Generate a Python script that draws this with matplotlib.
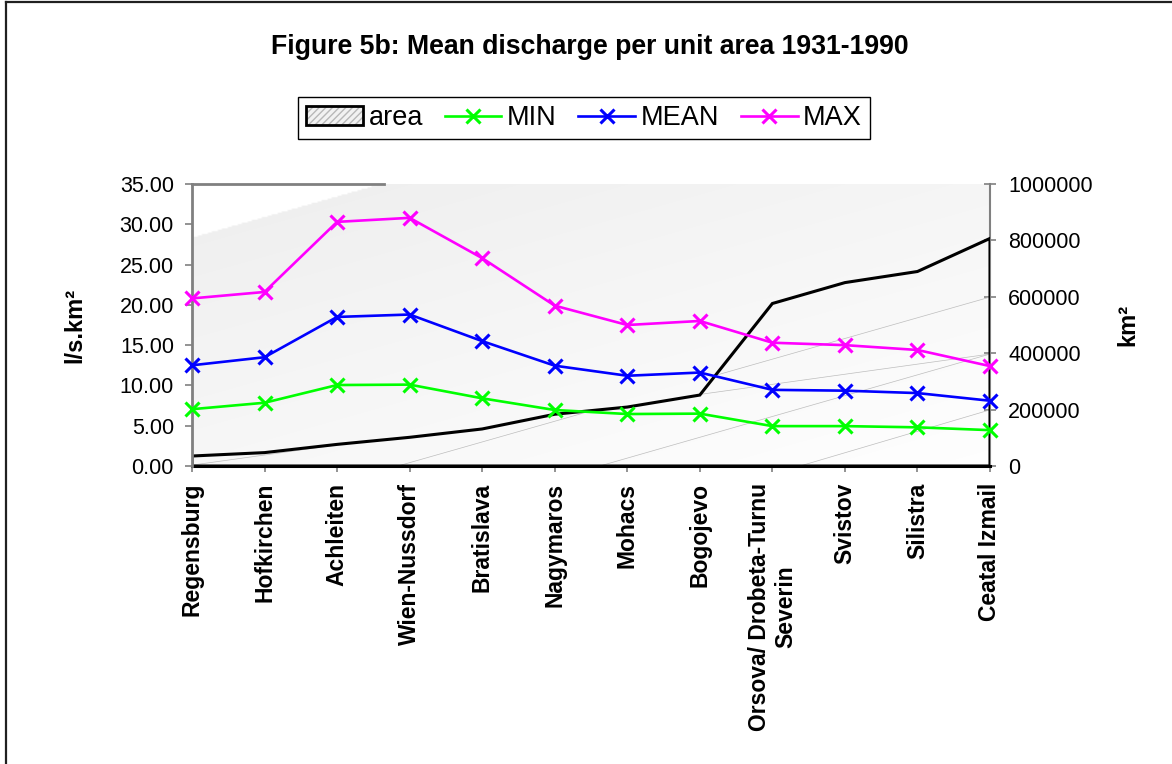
import numpy as np
import matplotlib
matplotlib.use("Agg")
import matplotlib.pyplot as plt
from matplotlib.patches import Polygon, Patch
from matplotlib.lines import Line2D
from matplotlib.legend_handler import HandlerTuple

plt.rcParams['font.family'] = ['Liberation Sans', 'DejaVu Sans']

# ---------------- data ----------------
stations = ["Regensburg", "Hofkirchen", "Achleiten", "Wien-Nussdorf", "Bratislava",
            "Nagymaros", "Mohacs", "Bogojevo", "Orsova/ Drobeta-Turnu\nSeverin",
            "Svistov", "Silistra", "Ceatal Izmail"]
area_km2 = [35399, 47496, 76653, 101731, 131338, 183534, 209064, 251593,
            576232, 650340, 689700, 807000]
q_min = [7.05, 7.85, 10.05, 10.1, 8.4, 6.95, 6.45, 6.5, 4.95, 4.95, 4.8, 4.45]
q_mean = [12.5, 13.5, 18.5, 18.8, 15.5, 12.45, 11.2, 11.6, 9.45, 9.35, 9.05, 8.1]
q_max = [20.8, 21.6, 30.3, 30.8, 25.8, 19.9, 17.5, 18.0, 15.3, 15.0, 14.4, 12.4]

left_ticks = [0, 5, 10, 15, 20, 25, 30, 35]
right_ticks = [0, 200000, 400000, 600000, 800000, 1000000]

W, H = 1172, 764
fig = plt.figure(figsize=(W / 100, H / 100), dpi=100)

# plot area in pixels
PX0, PX1, PY0, PY1 = 192, 990, 184, 466
ax2 = fig.add_axes([PX0 / W, 1 - PY1 / H, (PX1 - PX0) / W, (PY1 - PY0) / H])
ax = ax2.twinx()
ax.set_zorder(ax2.get_zorder() + 1)
ax.patch.set_visible(False)

x = np.arange(len(stations))

# ---- background gradient (decorative) ----
fx = np.linspace(0, 1, 400)
fy = np.linspace(0, 1, 200)
FX, FY = np.meshgrid(fx, fy)
Xp = PX0 + FX * (PX1 - PX0)
Yp = PY1 - FY * (PY1 - PY0)
c = Yp + 0.283 * Xp
g = 0.94 + (c - 292) / (746 - 292) * 0.058
g = np.clip(g, 0, 1)
g[c < 292] = 1.0
rgb = np.dstack([g, g, g])
ax2.imshow(rgb, extent=[0, 1, 0, 1], origin='lower', transform=ax2.transAxes,
           aspect='auto', zorder=0, interpolation='bilinear')

# ---- area series on right axis ----
ax2.set_xlim(0, len(stations) - 1)
ax2.set_ylim(0, 1000000)
verts = [(x[0], 0)] + list(zip(x, area_km2)) + [(x[-1], 0)]
poly = Polygon(verts, closed=True, facecolor='none', edgecolor='black', lw=2.2,
               transform=ax2.transData, zorder=3)
ax2.add_patch(poly)
hatch_lines = [((0.001, 0.0035), (1.0, 0.397)), ((0.258, 0.0), (1.0, 0.599)),
               ((0.511, 0.0), (1.0, 0.397)), ((0.762, 0.0), (1.0, 0.199))]
for (a, b) in hatch_lines:
    ln = Line2D([a[0], b[0]], [a[1], b[1]], transform=ax2.transAxes,
                color='#bdbdbd', lw=0.5, zorder=2)
    ax2.add_line(ln)
    ln.set_clip_path(poly)

ax2.set_yticks(right_ticks)
ax2.set_yticklabels([str(v) for v in right_ticks])
ax2.yaxis.tick_right()
ax2.yaxis.set_label_position('right')
ax2.tick_params(axis='y', direction='inout', length=8, width=1.2, color='#808080',
                labelsize=15.5, pad=9)
ax2.set_xticks(x)
ax2.set_xticklabels(stations, rotation=90, fontweight='bold', fontsize=16.5,
                    va='top', ha='center', multialignment='center')
ax2.tick_params(axis='x', direction='out', length=4, width=1.2, color='#808080', pad=8)
for s in ['left', 'top']:
    ax2.spines[s].set_visible(False)
ax2.spines['right'].set_color('#808080')
ax2.spines['right'].set_linewidth(1.5)
ax2.spines['bottom'].set_color('black')
ax2.spines['bottom'].set_linewidth(2.2)
ax2.plot([0, 0.24], [1, 1], transform=ax2.transAxes, color='#808080', lw=2,
         clip_on=False, zorder=4)
ax2.set_ylabel('km²', fontsize=17, fontweight='bold')
ax2.yaxis.set_label_coords((1116 - PX0) / (PX1 - PX0), 0.5)

# ---- discharge lines on left axis ----
ax.yaxis.tick_left()
ax.yaxis.set_label_position('left')
ax.set_xlim(0, len(stations) - 1)
ax.set_ylim(0, 35)
ms, mew, lw = 9.5, 2.2, 1.9
l_min, = ax.plot(x, q_min, color='#00ff00', lw=lw, marker='x', ms=ms, mew=mew, clip_on=False, zorder=5)
l_mean, = ax.plot(x, q_mean, color='#0000ff', lw=lw, marker='x', ms=ms, mew=mew, clip_on=False, zorder=5)
l_max, = ax.plot(x, q_max, color='#ff00ff', lw=lw, marker='x', ms=ms, mew=mew, clip_on=False, zorder=5)
ax.set_yticks(left_ticks)
ax.set_yticklabels([f"{v:.2f}" for v in left_ticks])
ax.tick_params(axis='y', direction='out', length=5, width=1.2, color='#808080',
               labelsize=15.5, pad=8)
for s in ['right', 'top', 'bottom']:
    ax.spines[s].set_visible(False)
ax.spines['left'].set_color('#808080')
ax.spines['left'].set_linewidth(2)
ax.set_ylabel('l/s.km²', fontsize=17, fontweight='bold')
ax.yaxis.set_label_coords((86 - PX0) / (PX1 - PX0), 0.5)

# ---- title ----
fig.text(590 / W, 1 - 47 / H, "Figure 5b: Mean discharge per unit area 1931-1990",
         ha='center', va='center', fontsize=19.2, fontweight='bold')

# ---- legend ----
area_handle = (Patch(facecolor='#f2f2f2', edgecolor='#b8b8b8', hatch='/////', lw=0),
               Patch(facecolor='none', edgecolor='black', lw=2))
leg = fig.legend([area_handle, l_min, l_mean, l_max], ['area', 'MIN', 'MEAN', 'MAX'],
                 handler_map={tuple: HandlerTuple(ndivide=1, pad=0)},
                 loc='center', bbox_to_anchor=(584 / W, 1 - 118 / H), ncol=4,
                 fontsize=19.5, frameon=True, fancybox=False, edgecolor='black',
                 framealpha=1, handlelength=2.1, handletextpad=0.2,
                 columnspacing=0.8, borderpad=0.3)
leg.get_frame().set_linewidth(1.0)

# ---- figure border (left and top visible) ----
fig.add_artist(Line2D([6 / W, 6 / W], [0, 1 - 2 / H], transform=fig.transFigure,
                      color='#202020', lw=1.6))
fig.add_artist(Line2D([6 / W, 1], [1 - 2 / H, 1 - 2 / H], transform=fig.transFigure,
                      color='#202020', lw=1.6))

fig.savefig('out.png', dpi=100)
